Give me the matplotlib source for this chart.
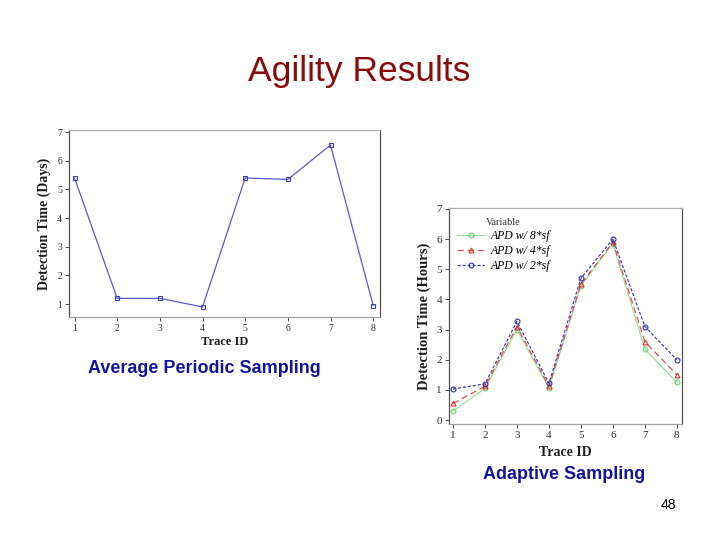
import matplotlib
matplotlib.use("Agg")
import matplotlib.pyplot as plt

# Average periodic sampling (days)
trace_ids = [1, 2, 3, 4, 5, 6, 7, 8]
periodic_days = [5.4, 1.2, 1.2, 0.9, 5.4, 5.35, 6.55, 0.95]

# Adaptive sampling (hours)
apd_8sf = [0.3, 1.05, 3.0, 1.05, 4.45, 5.85, 2.35, 1.25]
apd_4sf = [0.55, 1.12, 3.1, 1.12, 4.5, 5.9, 2.6, 1.5]
apd_2sf = [1.03, 1.2, 3.27, 1.22, 4.7, 6.0, 3.1, 2.0]

SERIF = ["Liberation Serif", "DejaVu Serif"]
SANS = ["Liberation Sans", "DejaVu Sans"]

fig = plt.figure(figsize=(7.2, 5.4), dpi=100)
fig.patch.set_facecolor("white")


def style_axes(ax, tick_size, xlabel_size, ylabel_size, ylabel, xpad):
    ax.spines["left"].set_color("#505050")
    ax.spines["right"].set_color("#505050")
    ax.spines["top"].set_color("#b0b0b0")
    ax.spines["bottom"].set_color("#a0a0a0")
    for s in ax.spines.values():
        s.set_linewidth(0.9)
    ax.tick_params(direction="out", length=3, width=0.6, colors="#303030",
                   labelsize=tick_size, top=False, right=False, pad=2)
    for lbl in ax.get_xticklabels() + ax.get_yticklabels():
        lbl.set_family(SERIF)
    ax.set_xlabel("Trace ID", family=SERIF, fontweight="bold", fontsize=xlabel_size,
                  color="#202020", labelpad=xpad)
    ax.set_ylabel(ylabel, family=SERIF, fontweight="bold", fontsize=ylabel_size,
                  color="#202020", labelpad=4)


# left chart
ax1 = fig.add_axes([0.0958, 0.413, 0.432, 0.346])
ax1.plot(trace_ids, periodic_days, "-", color="#5a5ac8", lw=0.9,
         marker="s", ms=3.5, mfc="none", mec="#4040b0", mew=0.8)
ax1.set_xlim(0.87, 8.16)
ax1.set_ylim(0.55, 7.07)
ax1.set_xticks(trace_ids)
ax1.set_yticks(range(1, 8))
style_axes(ax1, 7, 9, 10, "Detection Time (Days)", 2.5)

# right chart
ax2 = fig.add_axes([0.6236, 0.2148, 0.3236, 0.4])
ax2.plot(trace_ids, apd_8sf, "-", color="#90e090", lw=0.8, marker="o", ms=3.5,
         mfc="none", mec="#70d070", mew=0.8, label="APD w/ 8*sf")
ax2.plot(trace_ids, apd_4sf, "--", color="#e05050", lw=0.9, marker="^", ms=3.5,
         mfc="none", mec="#d03030", mew=0.8, dashes=(5, 3), label="APD w/ 4*sf")
ax2.plot(trace_ids, apd_2sf, "--", color="#4040c0", lw=0.9, marker="o", ms=3.5,
         mfc="none", mec="#3030b0", mew=0.8, dashes=(2.5, 1.5), label="APD w/ 2*sf")
ax2.set_xlim(0.875, 8.16)
ax2.set_ylim(-0.13, 7.03)
ax2.set_xticks(trace_ids)
ax2.set_yticks(range(0, 8))
style_axes(ax2, 8, 10, 10.5, "Detection Time (Hours)", 4.5)
leg = ax2.legend(loc="upper left", bbox_to_anchor=(0.0, 0.99), frameon=False,
                 title="Variable", handlelength=2.3, handletextpad=0.5,
                 labelspacing=0.25, borderaxespad=0.3,
                 prop={"family": SERIF, "style": "italic", "size": 8.5})
leg.get_title().set_family(SERIF)
leg.get_title().set_fontsize(7.5)
leg.get_title().set_color("#303030")

# slide text
fig.text(0.4985, 0.868, "Agility Results", ha="center", va="center", family=SANS,
         fontsize=25.5, color="#8b0a0a")
fig.text(0.1225, 0.318, "Average Periodic Sampling", ha="left", va="center", family=SANS,
         fontsize=13, fontweight="bold", color="#1414a0")
fig.text(0.671, 0.122, "Adaptive Sampling", ha="left", va="center", family=SANS,
         fontsize=13, fontweight="bold", color="#1414a0")
fig.text(0.939, 0.064, "48", ha="right", va="center", family=SANS,
         fontsize=10, color="black")

fig.savefig("out.png", dpi=100)
